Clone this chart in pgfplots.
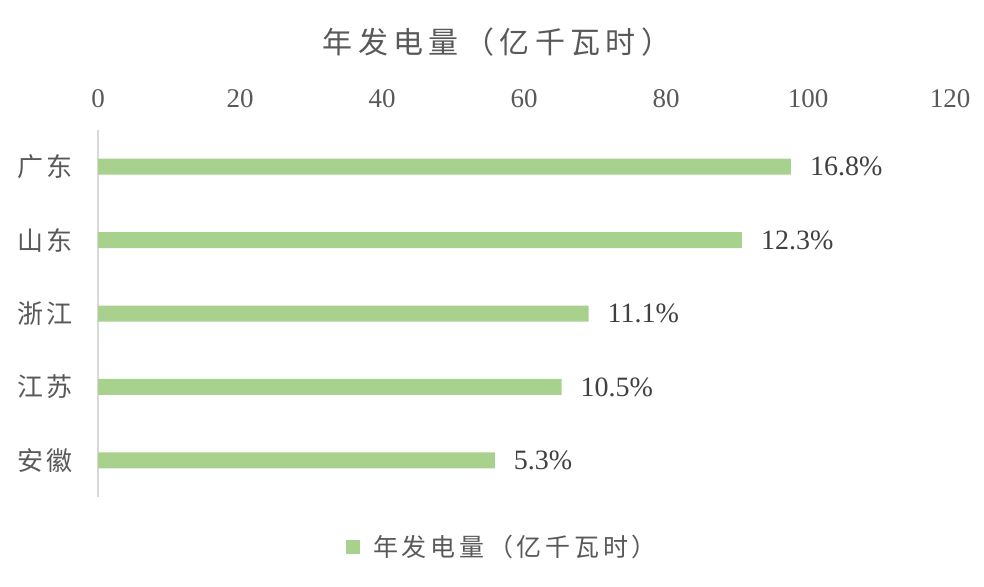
\documentclass[border=0pt]{standalone}
\usepackage{pgfplots}
\pgfplotsset{compat=1.18}
\usepackage{fontspec}
\setmainfont{Liberation Serif}
\newfontfamily\cjk{Noto Sans CJK SC}

\definecolor{barg}{HTML}{A9D18E}
\definecolor{txtgray}{HTML}{595959}
\definecolor{lblgray}{HTML}{404040}
\definecolor{axgray}{HTML}{D9D9D9}

\begin{document}
\begin{tikzpicture}
  \useasboundingbox (-49pt,-44.5pt) rectangle (443pt,248.5pt);
  \begin{axis}[
      at={(0,0)}, anchor=south west,
      scale only axis,
      width=426pt, height=183.5pt,
      xbar, bar width=8pt,
      xmin=0, xmax=120,
      xtick={0,20,...,120},
      ymin=0.5, ymax=5.5,
      y dir=reverse,
      ytick={1,2,3,4,5},
      yticklabels={广东,山东,浙江,江苏,安徽},
      axis x line*=top,
      axis y line*=left,
      x axis line style={draw=none},
      y axis line style={draw=axgray, line width=0.8pt},
      major tick length=0pt,
      /pgf/number format/assume math mode=true,
      xticklabel style={font=\fontsize{13.5pt}{16pt}\selectfont, text=txtgray, anchor=base, yshift=11.5pt},
      yticklabel style={font=\cjk\addfontfeature{LetterSpace=12}\fontsize{13pt}{15pt}\selectfont, text=txtgray, anchor=east, xshift=-9pt},
      point meta=explicit symbolic,
      nodes near coords={\pgfplotspointmeta\%},
      nodes near coords style={font=\fontsize{14pt}{16pt}\selectfont, text=lblgray, anchor=west, xshift=6pt},
      legend style={draw=none, at={(0.476,-0.136)}, anchor=center,
        font=\cjk\addfontfeature{LetterSpace=15}\fontsize{12.5pt}{14pt}\selectfont, text=txtgray},
      legend image code/.code={\fill[barg] (0pt,-3.5pt) rectangle (7pt,3.5pt);},
    ]
    \addplot[fill=barg, draw=none] table[x=v, y=y, meta=p] {
      y v    p
      1 97.6 16.8
      2 90.7 12.3
      3 69.1 11.1
      4 65.3 10.5
      5 55.9 5.3
    };
    \addlegendentry{\hspace{4.5pt}年发电量（亿千瓦时）}
  \end{axis}
  \node[font=\cjk\addfontfeature{LetterSpace=18}\fontsize{15pt}{18pt}\selectfont, text=txtgray]
    at (199.5pt,227.5pt) {年发电量（亿千瓦时）};
\end{tikzpicture}
\end{document}
